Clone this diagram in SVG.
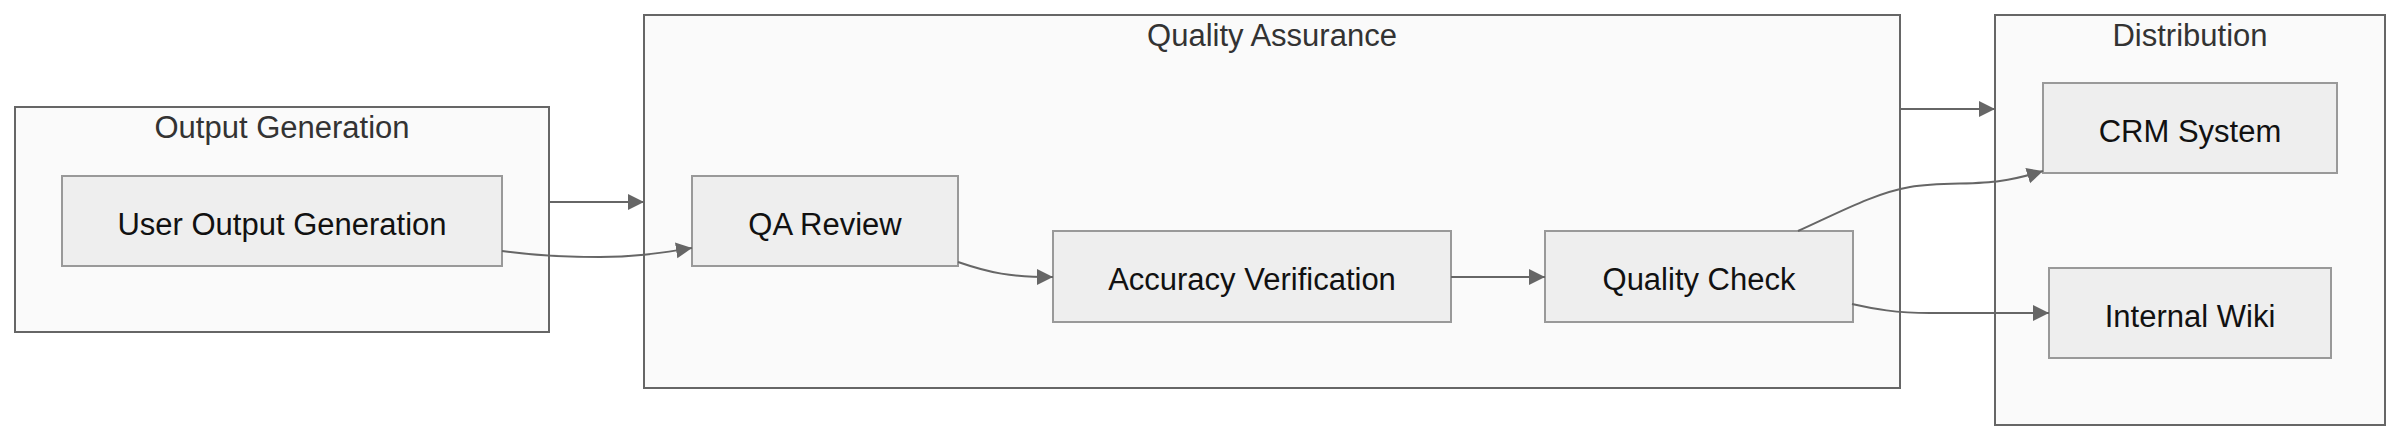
<svg xmlns="http://www.w3.org/2000/svg" width="2400" height="440" viewBox="0 0 2400 440">
<defs>
<style>
.cluster rect{fill:#fafafa;stroke:#666;stroke-width:2}
.cluster text{font-family:"Liberation Sans",Arial,sans-serif;font-size:31px;fill:#333;text-anchor:middle}
.node rect{fill:#eeeeee;stroke:#999;stroke-width:2}
.node text{font-family:"Liberation Sans",Arial,sans-serif;font-size:31px;fill:#111;text-anchor:middle}
.edge{fill:none;stroke:#666;stroke-width:2;marker-end:url(#arrow)}
</style>
<marker id="arrow" markerUnits="userSpaceOnUse" markerWidth="17" markerHeight="17" refX="16" refY="8" orient="auto">
<path d="M0,0 L16,8 L0,16 z" fill="#666"/>
</marker>
</defs>
<rect x="0" y="0" width="2400" height="440" fill="#ffffff"/>
<g id="cluster-output" class="cluster">
<rect x="15" y="107" width="534" height="225"/>
<text x="282" y="138">Output Generation</text>
</g>
<g id="cluster-qa" class="cluster">
<rect x="644" y="15" width="1256" height="373"/>
<text x="1272" y="46">Quality Assurance</text>
</g>
<g id="cluster-distribution" class="cluster">
<rect x="1995" y="15" width="390" height="410"/>
<text x="2190" y="46">Distribution</text>
</g>
<g id="node-user-output" class="node">
<rect x="62" y="176" width="440" height="90"/>
<text x="282" y="235">User Output Generation</text>
</g>
<g id="node-qa-review" class="node">
<rect x="692" y="176" width="266" height="90"/>
<text x="825" y="235">QA Review</text>
</g>
<g id="node-accuracy" class="node">
<rect x="1053" y="231" width="398" height="91"/>
<text x="1252" y="290">Accuracy Verification</text>
</g>
<g id="node-quality-check" class="node">
<rect x="1545" y="231" width="308" height="91"/>
<text x="1699" y="290">Quality Check</text>
</g>
<g id="node-crm" class="node">
<rect x="2043" y="83" width="294" height="90"/>
<text x="2190" y="142">CRM System</text>
</g>
<g id="node-wiki" class="node">
<rect x="2049" y="268" width="282" height="90"/>
<text x="2190" y="327">Internal Wiki</text>
</g>
<g id="connectors">
<path class="edge" d="M549,202 L644,202"/>
<path class="edge" d="M502,251 C530,255 560,257 600,257 C640,257 665,252 692,248"/>
<path class="edge" d="M958,262 C990,273 1010,277 1053,277"/>
<path class="edge" d="M1451,277 L1545,277"/>
<path class="edge" d="M1900,109 L1995,109"/>
<path class="edge" d="M1798,231 C1840,212 1875,193 1910,187 C1940,182 1975,185 2000,181 C2015,179 2030,175 2043,171"/>
<path class="edge" d="M1852,304 C1875,309 1895,313 1930,313 L2049,313"/>
</g>
</svg>
